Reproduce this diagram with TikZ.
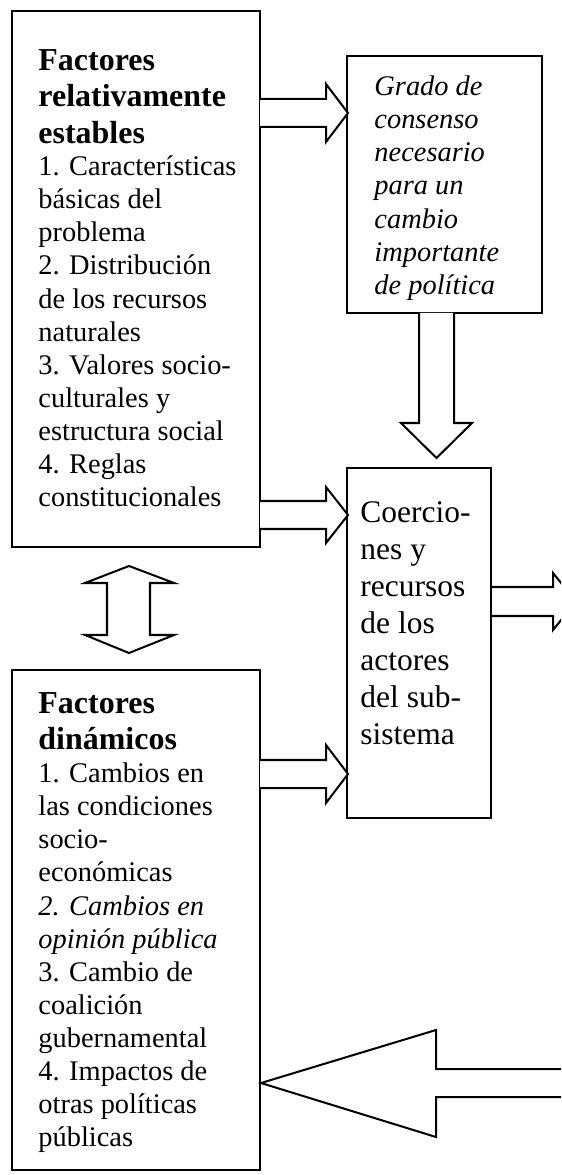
\documentclass[tikz,border=0pt]{standalone}
\usepackage{fontspec}
\setmainfont{Liberation Serif}
\usetikzlibrary{fit}
\tikzset{
  box/.style={draw, line width=0.85pt, inner sep=0pt},
  blockarrow/.style={draw, line width=0.85pt, line join=miter, fill=white},
  txt/.style={anchor=north west, inner sep=0pt, align=left},
  bodyfont/.style={font={\fontsize{12}{14}\selectfont}},
  titlefont/.style={font={\fontsize{13.5}{15.4}\selectfont\bfseries}},
  bigfont/.style={font={\fontsize{13.3}{15.6}\selectfont}},
}
\begin{document}
\begin{tikzpicture}[x=0.4225pt,y=-0.4225pt]
\useasboundingbox (0,0) rectangle (561,1175);
\clip (0,0) rectangle (561,1175);
% boxes
\node[box, fit={(12,11) (260,547)}] (A) {};
\node[box, fit={(347,56) (542,313)}] (B) {};
\node[box, fit={(347,468) (491,818)}] (C) {};
\node[box, fit={(12,670) (260,1170)}] (D) {};
% texts
\node[txt, titlefont] (Atitle) at (38,44.5) {\strut Factores\\relativamente\\estables};
\node[txt, bodyfont] (Abody) at (38,151.8) {\strut 1. Características\\básicas del\\problema\\2. Distribución\\de los recursos\\naturales\\3. Valores socio-\\culturales y\\estructura social\\4. Reglas\\constitucionales};
\node[txt, bodyfont] (Btext) at (374,71.8) {\itshape\strut Grado de\\\itshape consenso\\\itshape necesario\\\itshape para un\\\itshape cambio\\\itshape importante\\\itshape de política};
\node[txt, bigfont] (Ctext) at (360,496.2) {\strut Coercio-\\nes y\\recursos\\de los\\actores\\del sub-\\sistema};
\node[txt, titlefont] (Dtitle) at (38,687.5) {\strut Factores\\dinámicos};
\node[txt, bodyfont] (Dbody) at (38,758.8) {\strut 1. Cambios en\\las condiciones\\socio-\\económicas\\\textit{2. Cambios en}\\\textit{opinión pública}\\3. Cambio de\\coalición\\gubernamental\\4. Impactos de\\otras políticas\\públicas};
% A -> B
\draw[blockarrow] (260,99) -- (326,99) -- (326,84) -- (348,113) -- (326,142) -- (326,127) -- (260,127);
% A -> C
\draw[blockarrow] (260,501) -- (326,501) -- (326,487) -- (348,515) -- (326,543) -- (326,529) -- (260,529);
% D -> C
\draw[blockarrow] (260,760) -- (326,760) -- (326,745) -- (348,774) -- (326,803) -- (326,788) -- (260,788);
% B -> C (down)
\draw[blockarrow] (419,313) -- (419,423) -- (401,423) -- (436.5,458) -- (472,423) -- (454,423) -- (454,313);
% A <-> D double arrow
\draw[blockarrow] (129,566) -- (174,583) -- (150,583) -- (150,635) -- (174,635) -- (129,653) -- (85,635) -- (107,635) -- (107,583) -- (85,583) -- cycle;
% C -> right (leaves picture)
\draw[blockarrow] (492,587) -- (553,587) -- (553,573) -- (576,601.5) -- (553,630) -- (553,616) -- (492,616);
% right -> D (big arrow)
\draw[blockarrow] (580,1069) -- (436,1069) -- (436,1030) -- (261,1083) -- (436,1137) -- (436,1097) -- (580,1097);
\end{tikzpicture}
\end{document}
